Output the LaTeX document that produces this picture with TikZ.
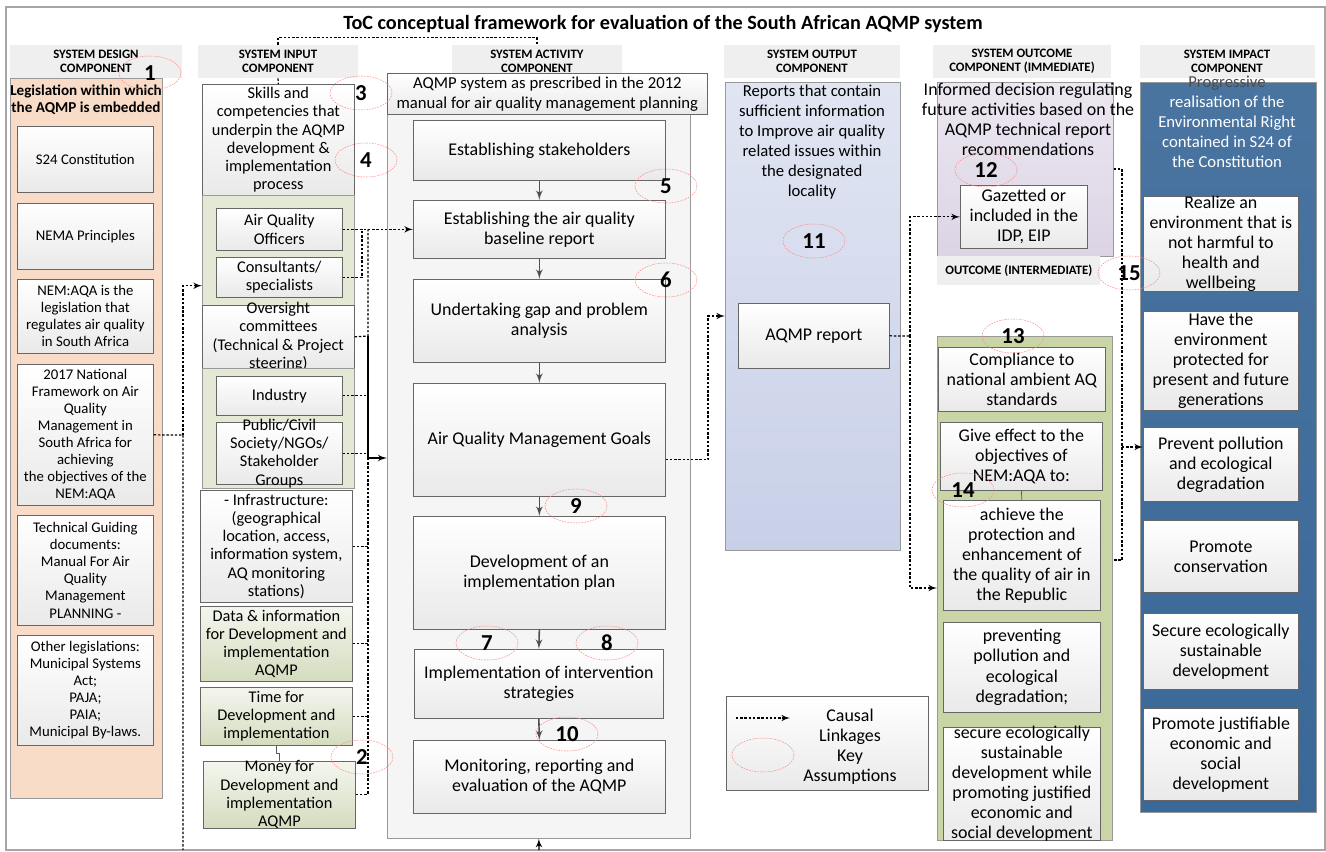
\documentclass[tikz,border=0pt]{standalone}
\usepackage{fontspec}
\setmainfont{Carlito}
\usepackage{tikz}
\usetikzlibrary{arrows}
\usetikzlibrary{shapes.geometric}
\definecolor{designpeach}{RGB}{248,220,200}
\definecolor{inputgreen}{RGB}{228,233,214}
\definecolor{inputgreendk}{RGB}{212,220,190}
\definecolor{outblue}{RGB}{200,208,232}
\definecolor{ocpurple}{RGB}{220,212,229}
\definecolor{ocgreen}{RGB}{202,213,166}
\definecolor{impblue}{RGB}{58,104,152}
\definecolor{hdrgray}{RGB}{239,239,239}
\definecolor{flowgray}{RGB}{80,80,80}
\tikzstyle{hdr} = [fill=hdrgray,inner sep=0pt,align=center,minimum height=33*\pxu,font=\fontsize{7.3}{8.2}\selectfont\bfseries]
\tikzstyle{panel} = [draw=gray!80,anchor=north west,inner sep=0pt]
\tikzstyle{box} = [draw=gray!80!black,top color=white,bottom color=gray!17,anchor=north west,align=center,inner xsep=2pt,inner ysep=1pt]
\tikzstyle{gbox} = [box,top color=inputgreen!40,bottom color=inputgreendk]
\tikzstyle{fsmall} = [font=\fontsize{8.4}{9.7}\selectfont]
\tikzstyle{finput} = [font=\fontsize{9.3}{10.4}\selectfont]
\tikzstyle{fmain} = [font=\fontsize{9.5}{11.4}\selectfont]
\tikzstyle{fbox} = [font=\fontsize{10.2}{11.4}\selectfont]
\tikzstyle{keyas} = [ellipse,draw=red!45,line width=0.3pt,dash pattern=on 1pt off 0.6pt,minimum width=62*\pxu,minimum height=34*\pxu,inner sep=0pt,font=\fontsize{13}{13}\selectfont\bfseries]
\tikzstyle{link} = [dash pattern=on 1.4pt off 1pt,line width=0.7pt]
\tikzstyle{causal} = [link,->]
\tikzstyle{flow} = [->,draw=flowgray,line width=0.9pt]

\begin{document}
\begin{tikzpicture}[x=0.02cm,y=-0.02cm,>=latex']

    \def\pxu{0.02cm}
    \useasboundingbox (0,0) rectangle (1326,852);
    \draw[gray!70,line width=0.6pt] (6,7) rectangle (1325,850);

% Title and column headers

    \node[font=\fontsize{11.5}{13}\selectfont\bfseries] at (663,24) (title) {ToC conceptual framework for evaluation of the South African AQMP system};
    \node[hdr,minimum width=172*\pxu] at (96,61.5) (hdes) {SYSTEM DESIGN\\COMPONENT};
    \node[hdr,minimum width=160*\pxu] at (278,61.5) (hinp) {SYSTEM INPUT\\COMPONENT};
    \node[hdr,minimum width=170*\pxu] at (537,61.5) (hact) {SYSTEM ACTIVITY\\COMPONENT};
    \node[hdr,minimum width=176*\pxu] at (812,61.5) (hout) {SYSTEM OUTPUT\\COMPONENT};
    \node[hdr,minimum width=178*\pxu] at (1022,61.5) (hoc) {SYSTEM OUTCOME\\COMPONENT (IMMEDIATE)};
    \node[hdr,minimum width=175*\pxu] at (1227,61.5) (himp) {SYSTEM IMPACT\\COMPONENT};

% Design component

    \node[panel,fill=designpeach,minimum width=152*\pxu,minimum height=720*\pxu] at (10,78) (despanel) {};
    \node[align=center,font=\fontsize{8.6}{9.6}\selectfont\bfseries] at (86,100) (destitle) {Legislation within which\\the AQMP is embedded};
    \node[box,fsmall,minimum width=136*\pxu,minimum height=66*\pxu] at (17,126) (s24) {S24 Constitution};
    \node[box,fsmall,minimum width=136*\pxu,minimum height=66*\pxu] at (17,203) (nema) {NEMA Principles};
    \node[box,fsmall,minimum width=136*\pxu,minimum height=74*\pxu] at (17,279) (nemaqa) {NEM:AQA is the\\legislation that\\regulates air quality\\in South Africa};
    \node[box,fsmall,minimum width=136*\pxu,minimum height=141*\pxu] at (17,364) (natfw) {2017 National\\Framework on Air\\Quality\\Management in\\South Africa for\\achieving\\the objectives of the\\NEM:AQA};
    \node[box,fsmall,minimum width=136*\pxu,minimum height=110*\pxu] at (17,515) (techgd) {Technical Guiding\\documents:\\Manual For Air\\Quality\\Management\\PLANNING -};
    \node[box,fsmall,minimum width=136*\pxu,minimum height=110*\pxu] at (17,635) (othleg) {Other legislations:\\Municipal Systems\\Act;\\PAJA;\\PAIA;\\Municipal By-laws.};

% Input component

    \node[box,finput,minimum width=152*\pxu,minimum height=111*\pxu] at (202,84) (skills) {Skills and\\competencies that\\underpin the AQMP\\development \&\\implementation\\process};
    \node[panel,fill=inputgreen,minimum width=152*\pxu,minimum height=110*\pxu] at (202,195) (grnA) {};
    \node[box,finput,minimum width=126*\pxu,minimum height=42*\pxu] at (216,208) (aqo) {Air Quality\\Officers};
    \node[box,finput,minimum width=126*\pxu,minimum height=40*\pxu] at (216,257) (cons) {Consultants/\\specialists};
    \node[box,finput,minimum width=152*\pxu,minimum height=63*\pxu,inner ysep=-2.5pt] at (202,305) (over) {Oversight\\committees\\(Technical \& Project\\steering)};
    \node[panel,fill=inputgreen,minimum width=152*\pxu,minimum height=120*\pxu] at (202,368) (grnB) {};
    \node[box,finput,minimum width=126*\pxu,minimum height=39*\pxu] at (216,376) (ind) {Industry};
    \node[box,finput,minimum width=126*\pxu,minimum height=62*\pxu,inner ysep=-3pt] at (216,422) (pub) {Public/Civil\\Society/NGOs/\\Stakeholder\\Groups};
    \node[box,finput,minimum width=152*\pxu,minimum height=112*\pxu] at (200,490) (infra) {- Infrastructure:\\(geographical\\location, access,\\information system,\\AQ monitoring\\stations)};
    \node[gbox,finput,minimum width=152*\pxu,minimum height=75*\pxu] at (200,606) (data) {Data \& information\\for Development and\\implementation\\AQMP};
    \node[gbox,finput,minimum width=152*\pxu,minimum height=58*\pxu] at (200,687) (time) {Time for\\Development and\\implementation};
    \node[gbox,finput,minimum width=152*\pxu,minimum height=67*\pxu,inner ysep=-1.5pt] at (203,761) (money) {Money for\\Development and\\implementation\\AQMP};

% Activity component

    \node[panel,fill=gray!8,minimum width=303*\pxu,minimum height=726*\pxu] at (387,112) (actpanel) {};
    \node[box,fmain,minimum width=320*\pxu,minimum height=41*\pxu] at (387,73) (acttop) {AQMP system as prescribed in the 2012\\manual for air quality management planning};
    \node[box,fbox,minimum width=252*\pxu,minimum height=60*\pxu] at (413,120) (stake) {Establishing stakeholders};
    \node[box,fbox,minimum width=252*\pxu,minimum height=58*\pxu] at (413,200) (base) {Establishing the air quality\\baseline report};
    \node[box,fbox,minimum width=252*\pxu,minimum height=83*\pxu] at (413,279) (gap) {Undertaking gap and problem\\analysis};
    \node[box,fbox,minimum width=252*\pxu,minimum height=113*\pxu] at (413,383) (goals) {Air Quality Management Goals};
    \node[box,fbox,minimum width=252*\pxu,minimum height=113*\pxu] at (413,516) (devplan) {Development of an\\implementation plan};
    \node[box,fbox,minimum width=249*\pxu,minimum height=69*\pxu] at (414,649) (implstr) {Implementation of intervention\\strategies};
    \node[box,fbox,minimum width=252*\pxu,minimum height=73*\pxu] at (413,740) (monit) {Monitoring, reporting and\\evaluation of the AQMP};

% Output component

    \node[panel,top color=outblue!55,bottom color=outblue,minimum width=175*\pxu,minimum height=468*\pxu] at (725,82) (outpanel) {};
    \node[fmain,align=center] at (812,142) (outtxt) {Reports that contain\\sufficient information\\to Improve air quality\\related issues within\\the designated\\locality};
    \node[box,fbox,minimum width=151*\pxu,minimum height=65*\pxu] at (738,303) (aqmprep) {AQMP report};

% Outcome component

    \node[panel,top color=ocpurple!55,bottom color=ocpurple,minimum width=176*\pxu,minimum height=174*\pxu] at (937,82) (ocpanel) {};
    \node[fbox,align=center] at (1028,119) (octxt) {Informed decision regulating\\future activities based on the\\AQMP technical report\\recommendations};
    \node[box,fbox,minimum width=127*\pxu,minimum height=63*\pxu] at (960,185) (gaz) {Gazetted or\\included in the\\IDP, EIP};
    \node[hdr,anchor=north west,minimum width=163*\pxu,minimum height=29*\pxu] at (937,256) (interm) {OUTCOME (INTERMEDIATE)};
    \node[panel,fill=ocgreen,minimum width=175*\pxu,minimum height=504*\pxu] at (937,336) (intpanel) {};
    \node[box,fbox,minimum width=167*\pxu,minimum height=64*\pxu] at (938,347) (comp) {Compliance to\\national ambient AQ\\standards};
    \node[box,fbox,minimum width=162*\pxu,minimum height=68*\pxu] at (940,422) (give) {Give effect to the\\objectives of\\NEM:AQA to:};
    \node[box,fbox,minimum width=157*\pxu,minimum height=110*\pxu] at (943,500) (achieve) {achieve the\\protection and\\enhancement of\\the quality of air in\\the Republic};
    \node[box,fbox,minimum width=157*\pxu,minimum height=90*\pxu] at (943,622) (prevp) {preventing\\pollution and\\ecological\\degradation;};
    \node[box,fbox,minimum width=157*\pxu,minimum height=113*\pxu,inner ysep=-2pt] at (943,727) (secure) {secure ecologically\\sustainable\\development while\\promoting justified\\economic and\\social development};

% Impact component

    \node[panel,top color=impblue!92!white,bottom color=impblue,minimum width=176*\pxu,minimum height=730*\pxu] at (1140,82) (imppanel) {};
    \node[fmain,align=center,text=white] at (1227,122) (imptxt) {\textcolor{black!70}{Progressive}\\realisation of the\\Environmental Right\\contained in S24 of\\the Constitution};
    \node[box,fbox,minimum width=155*\pxu,minimum height=95*\pxu,inner ysep=-1.5pt] at (1143,196) (realize) {Realize an\\environment that is\\not harmful to\\health and\\wellbeing};
    \node[box,fbox,minimum width=155*\pxu,minimum height=94*\pxu] at (1143,311) (havethe) {Have the\\environment\\protected for\\present and future\\generations};
    \node[box,fbox,minimum width=155*\pxu,minimum height=74*\pxu] at (1143,427) (prevent) {Prevent pollution\\and ecological\\degradation};
    \node[box,fbox,minimum width=155*\pxu,minimum height=72*\pxu] at (1143,520) (promcon) {Promote\\conservation};
    \node[box,fbox,minimum width=155*\pxu,minimum height=76*\pxu] at (1143,613) (secdev) {Secure ecologically\\sustainable\\development};
    \node[box,fbox,minimum width=155*\pxu,minimum height=92*\pxu] at (1143,708) (promjust) {Promote justifiable\\economic and\\social\\development};

% Legend

    \node[box,minimum width=202*\pxu,minimum height=94*\pxu] at (726,696) (legend) {};
    \coordinate (legA) at (736,718);
    \coordinate (legB) at (790,718);
    \draw[causal] (legA) -- (legB);
    \node[keyas] at (763,755) (legka) {};
    \node[fbox,align=center] at (850,747) (legtxt) {Causal\\Linkages\\Key\\Assumptions};

% Activity steps

    \draw[flow] (stake.south) -- (base.north);
    \draw[flow] (base.south) -- (gap.north);
    \draw[flow] (gap.south) -- (goals.north);
    \draw[flow] (goals.south) -- (devplan.north);
    \draw[flow] (devplan.south) -- (implstr.north);
    \draw[flow] (implstr.south) -- (monit.north);
    \coordinate (fbot) at (539,850);
    \draw[->,line width=0.7pt] (fbot) -- (actpanel.south);

% Causal linkages

    \draw[link] (hinp.north) -- ++(0,-7) -| (hact.north);
    \draw[link] (hinp.south) -- (skills.north);
    \draw[gray!70!black] (time.south) -- ++(0,8) -| (money.north);
    \draw[gray!70!black] (give.south) -- (achieve.north);

    \coordinate (dbus) at (183,435);
    \coordinate (dbot) at (183,850);
    \draw[link] (natfw.east) -- (dbus) -- (dbot);
    \draw[causal] (dbus) |- ([yshift=0.4cm]grnA.south west);

    \coordinate (jcons) at (362,229);
    \coordinate (jover) at (368,336);
    \coordinate (jin) at (368,458);
    \draw[causal] (aqo.east) -- (aqo.east -| base.west);
    \draw[link] (cons.east) -| (jcons);
    \draw[link] (over.east) -- (jover) -- (jover |- aqo.east);
    \draw[line width=0.8pt] (jover) -- (jin);
    \draw[->,line width=0.8pt] (jin) -- (jin -| actpanel.west);
    \draw[link] (jin) -- (jin |- money.east);
    \draw[link] (ind.east) -- (ind.east -| jin);
    \draw[link] (pub.east) -- (pub.east -| jin);
    \draw[link] (infra.east) -- (infra.east -| jin);
    \draw[link] (data.east) -- (data.east -| jin);
    \draw[link] (time.east) -- (time.east -| jin);
    \draw[link] (money.east) -- (money.east -| jin);

    \coordinate (jgoal) at (708,316);
    \draw[causal] ([yshift=-0.4cm]goals.east) -| (jgoal) -- (jgoal -| outpanel.west);

    \coordinate (jrep) at (910,336);
    \coordinate (jach) at (910,588);
    \draw[link] (aqmprep.east) -- (jrep);
    \draw[causal] (jrep) |- (gaz.west);
    \draw[causal] (jrep) -- (jach) -- (jach -| intpanel.west);

    \coordinate (jocA) at (1122,169);
    \coordinate (jocB) at (1122,560);
    \coordinate (jimp) at (1122,447);
    \draw[link] (jocA -| ocpanel.east) -- (jocA) -- (jocB) -- (jocB -| intpanel.east);
    \draw[causal] (jimp) -- (jimp -| prevent.west);

% Key assumptions

    \node[keyas] at (150,73) (ka1) {1};
    \node[keyas] at (362,757) (ka2) {2};
    \node[keyas] at (361,93) (ka3) {3};
    \node[keyas] at (366,160) (ka4) {4};
    \node[keyas] at (666,186) (ka5) {5};
    \node[keyas] at (666,280) (ka6) {6};
    \node[keyas] at (487,643) (ka7) {7};
    \node[keyas] at (607,643) (ka8) {8};
    \node[keyas] at (576,506) (ka9) {9};
    \node[keyas] at (567,734) (ka10) {10};
    \node[keyas] at (814,241) (ka11) {11};
    \node[keyas] at (986,170) (ka12) {12};
    \node[keyas] at (1013,336) (ka13) {13};
    \node[keyas] at (963,490) (ka14) {14};
    \node[keyas] at (1129,273) (ka15) {15};

\end{tikzpicture}
\end{document}
